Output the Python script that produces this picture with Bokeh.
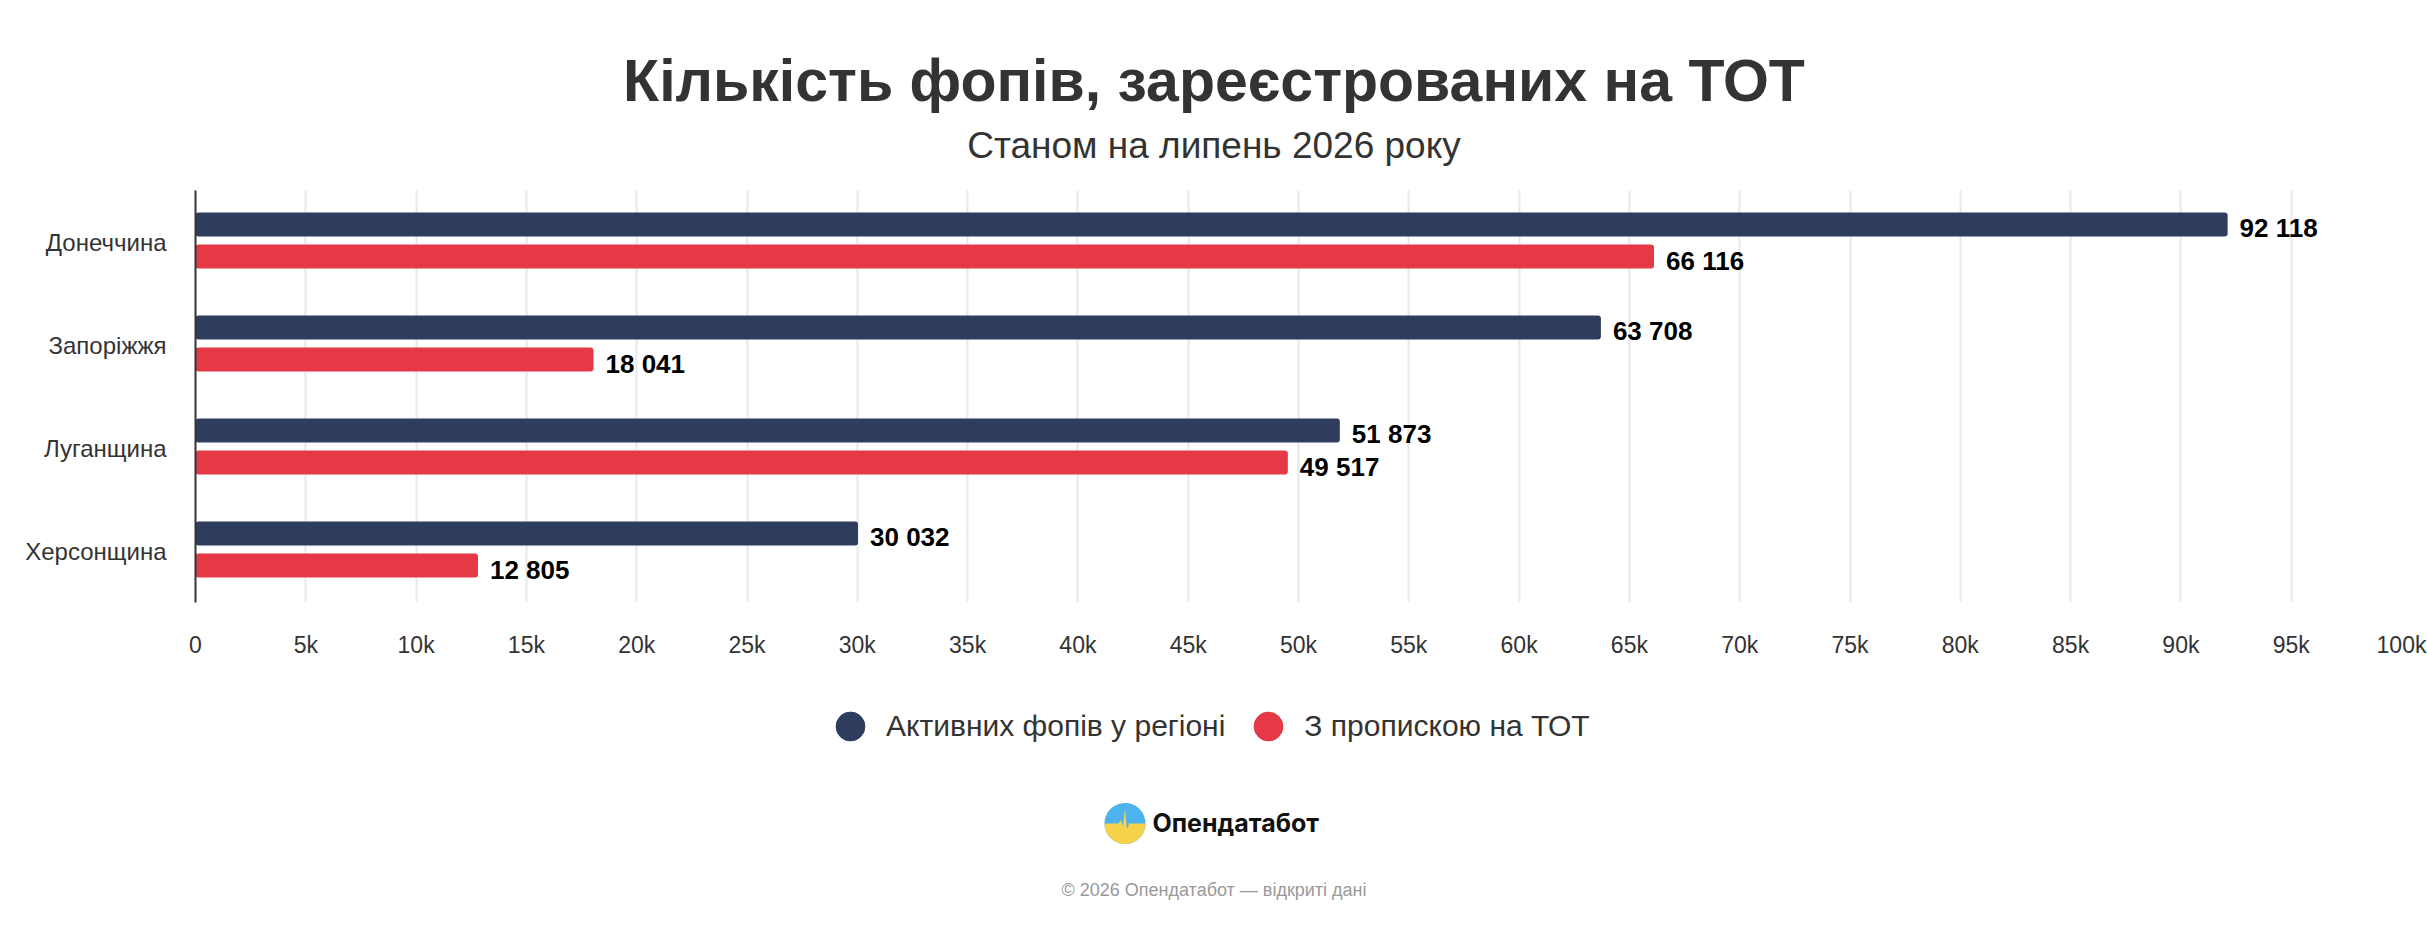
import numpy as np
from bokeh.plotting import figure
from bokeh.layouts import column
from bokeh.models import (FactorRange, Range1d, FixedTicker, Legend, LegendItem,
                          ColumnDataSource)
from bokeh.transform import dodge
from bokeh.core.properties import value
from bokeh.embed import file_html
from bokeh.resources import INLINE

# ---------------- data ----------------
TITLE = "Кількість фопів, зареєстрованих на ТОТ"
SUBTITLE = "Станом на липень 2026 року"
REGIONS = ["Донеччина", "Запоріжжя", "Луганщина", "Херсонщина"]
ACTIVE = [92118, 63708, 51873, 30032]
TOT = [66116, 18041, 49517, 12805]
SERIES_NAMES = ["Активних фопів у регіоні", "З пропискою на ТОТ"]
TICKS = [0, 5000, 10000, 15000, 20000, 25000, 30000, 35000, 40000, 45000, 50000,
         55000, 60000, 65000, 70000, 75000, 80000, 85000, 90000, 95000, 100000]
TICK_LABELS = ["0", "5k", "10k", "15k", "20k", "25k", "30k", "35k", "40k", "45k", "50k",
               "55k", "60k", "65k", "70k", "75k", "80k", "85k", "90k", "95k", "100k"]
BRAND = "Опендатабот"
FOOTER = "© 2026 Опендатабот — відкриті дані"

# ---------------- style ----------------
DARK = "#2e3d5e"
RED = "#e63946"
TXT = "#333333"
FONT = "Liberation Sans"

W, H = 2427, 926
HEADER_H = 190          # canvas rows 0..190
MAIN_H = 490            # canvas rows 190..680 (plot frame 190..602)
FOOT_TOP = HEADER_H + MAIN_H
FOOT_H = H - FOOT_TOP   # canvas rows 680..926
L, R = 195, 2401        # plot frame columns (shared by all three figures)


def blank(height, y0, y1):
    f = figure(width=W, height=height, x_range=Range1d(L, R), y_range=Range1d(y1, y0),
               x_axis_type=None, y_axis_type=None, output_backend="svg",
               toolbar_location=None, min_border_left=L, min_border_right=W - R,
               min_border_top=0, min_border_bottom=0)
    f.outline_line_color = None
    f.grid.visible = False
    f.background_fill_color = "white"
    f.border_fill_color = "white"
    return f


def fmt(v):
    return f"{v:,}".replace(",", " ")


# ---------------- header ----------------
head = blank(HEADER_H, 0, HEADER_H)
head.text(x=[W / 2], y=[80], text=[TITLE], text_align="center", text_baseline="middle",
          text_font=value(FONT), text_font_style="bold", text_font_size="59px",
          text_color=TXT)
head.text(x=[W / 2], y=[145], text=[SUBTITLE], text_align="center", text_baseline="middle",
          text_font=value(FONT), text_font_size="37px", text_color=TXT)

# ---------------- main chart ----------------
src = ColumnDataSource(dict(
    region=REGIONS,
    active=ACTIVE,
    tot=TOT,
    active_lbl=[fmt(v) for v in ACTIVE],
    tot_lbl=[fmt(v) for v in TOT],
))

p = figure(width=W, height=MAIN_H,
           y_range=FactorRange(factors=REGIONS[::-1], range_padding=0),
           x_range=Range1d(0, 100000),
           output_backend="svg", toolbar_location=None,
           min_border_left=L, min_border_right=W - R,
           min_border_top=0, min_border_bottom=MAIN_H - 412)
p.outline_line_color = None
p.background_fill_color = "white"
p.border_fill_color = "white"

UP, DOWN, BH = 0.170, -0.141, 0.233

p.hbar(y=dodge("region", UP, range=p.y_range), left=0, right="active", height=BH,
       source=src, fill_color=DARK, line_color=None, border_radius=3)
p.hbar(y=dodge("region", DOWN, range=p.y_range), left=0, right="tot", height=BH,
       source=src, fill_color=RED, line_color=None, border_radius=3)

for col, lbl, off in (("active", "active_lbl", UP), ("tot", "tot_lbl", DOWN)):
    p.text(x=col, y=dodge("region", off, range=p.y_range), text=lbl, source=src,
           x_offset=12, y_offset=4, text_baseline="middle", text_align="left",
           text_font=value(FONT), text_font_style="bold", text_font_size="26px",
           text_color="#000000")

p.xaxis.ticker = FixedTicker(ticks=TICKS)
p.xaxis.major_label_overrides = {t: lbl for t, lbl in zip(TICKS, TICK_LABELS)}
p.xaxis.axis_line_color = None
p.xaxis.major_tick_line_color = None
p.xaxis.minor_tick_line_color = None
p.xaxis.major_tick_out = 0
p.xaxis.major_label_standoff = 29
p.xaxis.major_label_text_font = FONT
p.xaxis.major_label_text_font_size = "23px"
p.xaxis.major_label_text_color = TXT

p.yaxis.axis_line_color = TXT
p.yaxis.axis_line_width = 2
p.yaxis.major_tick_line_color = None
p.yaxis.minor_tick_line_color = None
p.yaxis.major_tick_out = 0
p.yaxis.major_label_standoff = 29
p.yaxis.major_label_text_font = FONT
p.yaxis.major_label_text_font_size = "24px"
p.yaxis.major_label_text_color = TXT

p.xgrid.grid_line_color = "#e8e8e8"
p.xgrid.grid_line_width = 2
p.ygrid.grid_line_color = None

# ---------------- footer: legend, brand, copyright ----------------
foot = blank(FOOT_H, FOOT_TOP, H)
# legend-only markers, placed outside the visible frame
r1 = foot.scatter(x=[-9999], y=[-9999], marker="circle", size=29,
                  fill_color=DARK, line_color=DARK)
r2 = foot.scatter(x=[-9999], y=[-9999], marker="circle", size=29,
                  fill_color=RED, line_color=RED)
legend = Legend(items=[LegendItem(label=SERIES_NAMES[0], renderers=[r1]),
                       LegendItem(label=SERIES_NAMES[1], renderers=[r2])],
                orientation="horizontal", location=(814 - L, H - 762),
                glyph_width=72, glyph_height=72, label_standoff=0, spacing=7,
                padding=0, margin=0, border_line_color=None, background_fill_alpha=0,
                label_text_font=FONT, label_text_font_size="30px", label_text_color=TXT)
foot.add_layout(legend)

# brand logo (blue disc, yellow lower half with a pulse line)
cxl, cyl, rl = 1124.5, 823.0, 20.5
ang = np.linspace(0, 2 * np.pi, 72)
foot.patch(x=list(cxl + rl * np.cos(ang)), y=list(cyl + rl * np.sin(ang)),
           fill_color="#4db3ee", line_color=None)
pulse = [(-1.0, 0.0), (-0.32, 0.0), (-0.2, -0.18), (-0.1, 0.12), (0.0, -0.72),
         (0.1, 0.28), (0.2, 0.0), (1.0, 0.0)]
arc = np.linspace(0, np.pi, 36)
yx = [cxl + rl * a for a, b in pulse] + list(cxl + rl * np.cos(arc))
yy = [cyl + rl * b for a, b in pulse] + list(cyl + rl * np.sin(arc))
foot.patch(x=yx, y=yy, fill_color="#f5d24a", line_color=None)
foot.text(x=[1152], y=[822], text=[BRAND], text_align="left", text_baseline="middle",
          text_font=value("Inter"), text_font_style="bold", text_font_size="25px",
          text_color="#111111")
foot.text(x=[W / 2], y=[889], text=[FOOTER], text_align="center", text_baseline="middle",
          text_font=value(FONT), text_font_size="18px", text_color="#999999")

layout = column(head, p, foot, spacing=0)
open("out.html", "w").write(file_html(layout, INLINE))
